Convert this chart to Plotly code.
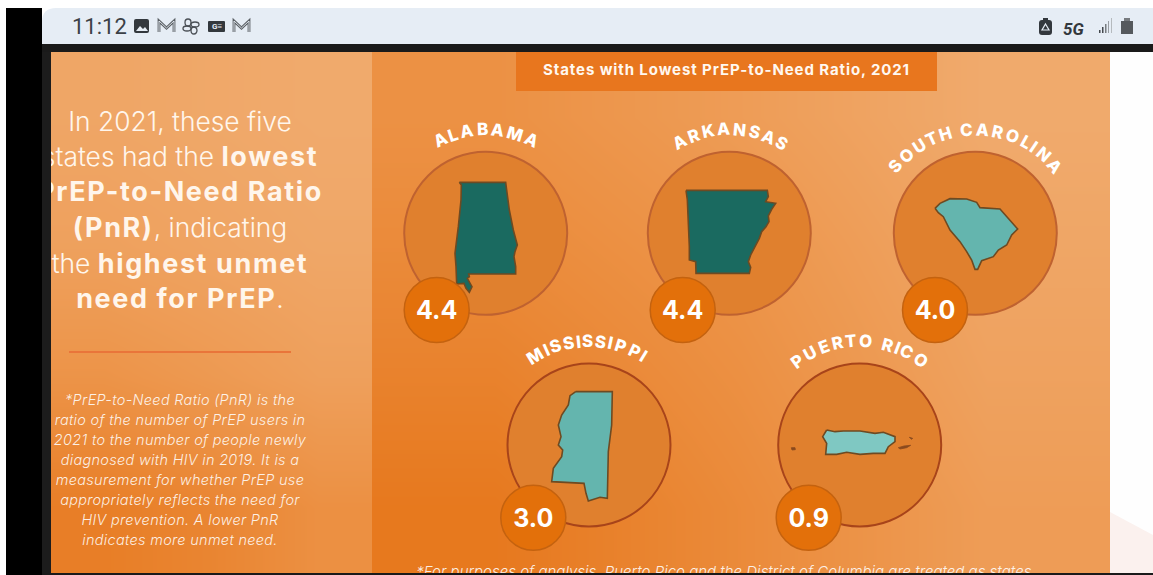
import math
import plotly.graph_objects as go

FONT = "Inter"


def strong(words):
    # Heavier, slightly tracked run inside a light line
    return f'<span style="font-weight:700;letter-spacing:1.6px;font-size:27px">{words}</span>'


def tracked(line, px):
    return f'<span style="letter-spacing:{px}px">{line}</span>'


# Headline, footnotes and banner
BANNER_TITLE = "States with Lowest PrEP-to-Need Ratio, 2021"
HEADLINE = [
    "In 2021, these five",
    "states had the " + strong("lowest"),
    strong("PrEP-to-Need Ratio"),
    strong("(PnR)") + ", indicating",
    "the " + strong("highest unmet"),
    strong("need for PrEP") + ".",
]
HEADLINE_Y = [124, 159, 194, 230, 266, 301]
DEFINITION = [
    "*PrEP-to-Need Ratio (PnR) is the",
    "ratio of the number of PrEP users in",
    "2021 to the number of people newly",
    "diagnosed with HIV in 2019. It is a",
    "measurement for whether PrEP use",
    "appropriately reflects the need for",
    "HIV prevention. A lower PnR",
    "indicates more unmet need.",
]
DEFINITION_Y = [401, 421, 441, 461, 481, 501, 521, 541]
ANALYSIS_NOTE = "*For purposes of analysis, Puerto Rico and the District of Columbia are treated as states."

# One entry per state or territory
STATES = ["ALABAMA", "ARKANSAS", "SOUTH CAROLINA", "MISSISSIPPI", "PUERTO RICO"]
RATIOS = [4.4, 4.4, 4.0, 3.0, 0.9]
CIRCLE_X = [485.7, 729.3, 975.3, 589.0, 859.7]
CIRCLE_Y = [233.3, 233.3, 233.3, 445.0, 445.0]
BADGE_X = [436.7, 682.7, 935.0, 533.3, 808.7]
BADGE_Y = [310.0, 310.0, 310.0, 517.7, 517.7]
ARC_START = [-26.0, -28.5, -50.0, -31.0, -36.5]
ARC_END = [26.0, 30.0, 49.5, 31.4, 35.6]
RING_COLORS = ["#BF6230", "#BF6230", "#BF6230", "#A8441A", "#A8441A"]
STATE_FILLS = ["#1A6A60", "#1A6A60", "#64B5AE", "#64B5AE", "#7FC8C2"]

# Outlines, in thirds of a pixel from each state's box corner
BOX_CORNERS = [(390, 110), (630, 110), (870, 110), (490, 325), (760, 325)]
OUTLINES = [
    [(208, 217), (347, 217), (350, 240), (358, 300), (370, 360), (382, 405), (375, 425), (372, 440),
     (377, 470), (377, 492), (236, 492), (238, 500), (232, 505), (246, 530), (238, 547), (228, 535),
     (222, 520), (200, 522), (198, 470), (195, 430), (205, 350), (213, 270), (214, 225)],
    [(168, 241), (412, 241), (415, 260), (407, 275), (437, 280), (425, 298), (415, 318), (417, 335),
     (408, 350), (395, 365), (388, 385), (375, 410), (362, 435), (355, 455), (362, 472), (358, 490),
     (198, 490), (197, 455), (178, 450), (178, 410), (175, 300), (172, 270)],
    [(195, 295), (210, 280), (240, 266), (290, 267), (320, 277), (330, 293), (390, 297), (443, 357),
     (425, 375), (410, 405), (385, 420), (370, 440), (335, 452), (323, 478), (315, 478), (305, 450),
     (290, 425), (270, 395), (240, 360), (220, 320), (205, 308)],
    [(257, 200), (367, 200), (365, 300), (355, 380), (352, 520), (330, 517), (295, 528), (288, 505),
     (282, 475), (185, 470), (190, 430), (215, 395), (218, 375), (205, 360), (213, 335), (205, 300),
     (215, 270), (235, 240), (240, 212)],
    [(200, 315), (225, 320), (250, 318), (300, 318), (345, 325), (370, 322), (405, 335), (405, 350),
     (385, 365), (375, 385), (340, 385), (300, 388), (260, 382), (230, 388), (197, 388), (200, 355),
     (188, 335)],
]
# Mona, Vieques and Culebra, same units, from the Puerto Rico corner
ISLETS = [
    [(94, 368), (105, 368), (106, 374), (96, 375)],
    [(415, 368), (432, 363), (452, 361), (440, 368), (420, 372)],
    [(448, 337), (458, 340), (455, 343)],
]

# Panel shading levels; rows run top to bottom, columns left to right
LEFT_PANEL_X = [51, 158, 265, 372]
LEFT_PANEL_Y = [52, 182, 312, 442, 573]
LEFT_PANEL_Z = [
    [0.90, 0.94, 0.98],
    [0.80, 0.86, 0.92],
    [0.55, 0.66, 0.78],
    [0.15, 0.28, 0.48],
]
RIGHT_PANEL_X = [372, 618, 864, 1110]
RIGHT_PANEL_Y = [52, 182, 312, 442, 573]
RIGHT_PANEL_Z = [
    [0.50, 0.72, 0.98],
    [0.38, 0.58, 0.90],
    [0.22, 0.48, 0.82],
    [0.05, 0.38, 0.72],
]
PANEL_SCALE = [[0, "#E6761A"], [0.5, "#EC9144"], [1, "#F0AB6E"]]

# Relative letter advances used to space the curved names
ADVANCE = {"A": .76, "L": .60, "B": .74, "M": .92, "R": .72, "K": .72, "N": .80, "S": .64, "U": .77,
           "T": .62, "H": .80, "C": .72, "O": .83, "I": .32, "P": .70, "E": .66, " ": .30}
LETTER_RADIUS = 104


def rect(x0, y0, x1, y1, color, layer="above"):
    return dict(type="rect", xref="x", yref="y", x0=x0, y0=y0, x1=x1, y1=y1,
                fillcolor=color, line_width=0, layer=layer)


def path(d, fill=None, stroke=None, width=1.5):
    return dict(type="path", xref="x", yref="y", path=d, layer="above",
                fillcolor=fill or "rgba(0,0,0,0)", line=dict(color=stroke or "rgba(0,0,0,0)", width=width))


def ellipse(x0, y0, x1, y1, stroke, width=1.3):
    return dict(type="circle", xref="x", yref="y", x0=x0, y0=y0, x1=x1, y1=y1, layer="above",
                fillcolor="rgba(0,0,0,0)", line=dict(color=stroke, width=width))


def outline_trace(corner, outline, fill, edge, width):
    closed = outline + outline[:1]
    return go.Scatter(x=[corner[0] + p[0] / 3 for p in closed],
                      y=[corner[1] + p[1] / 3 for p in closed],
                      mode="lines", fill="toself", fillcolor=fill,
                      line=dict(color=edge, width=width), hoverinfo="skip")


fig = go.Figure()

# Panels with their diagonal shading
for xs, ys, zs in [(LEFT_PANEL_X, LEFT_PANEL_Y, LEFT_PANEL_Z), (RIGHT_PANEL_X, RIGHT_PANEL_Y, RIGHT_PANEL_Z)]:
    fig.add_trace(go.Heatmap(x=xs, y=ys, z=zs, zmin=0, zmax=1, colorscale=PANEL_SCALE, zsmooth="best",
                             showscale=False, hoverinfo="skip"))

# Rings behind each outline
fig.add_trace(go.Scatter(x=CIRCLE_X, y=CIRCLE_Y, mode="markers", hoverinfo="skip",
                         marker=dict(size=163, color="#E0802E", line=dict(color=RING_COLORS, width=2))))

# State outlines
for corner, outline, fill in zip(BOX_CORNERS, OUTLINES, STATE_FILLS):
    fig.add_trace(outline_trace(corner, outline, fill, "#6E4A22", 1.6))
for islet in ISLETS:
    fig.add_trace(outline_trace(BOX_CORNERS[4], islet, "#8A4A1E", "#8A4A1E", 0.8))

# Ratio badges, with the numerals nudged onto the disc centres
fig.add_trace(go.Scatter(x=BADGE_X, y=BADGE_Y, mode="markers", hoverinfo="skip",
                         marker=dict(size=65, color="#E3700A", line=dict(color="#C4620F", width=1.5))))
fig.add_trace(go.Scatter(x=BADGE_X, y=[y + 3 for y in BADGE_Y], mode="text", hoverinfo="skip",
                         text=[f"{v:.1f}" for v in RATIOS], textposition="middle center",
                         textfont=dict(family=FONT, size=25, color="white", weight=700)))

# Left column copy; text runs under the frame, which is drawn on top
fig.add_trace(go.Scatter(x=[180] * len(HEADLINE), y=HEADLINE_Y, text=HEADLINE, mode="text", hoverinfo="skip",
                         textposition="middle center",
                         textfont=dict(family=FONT, size=26.4, color="#FFF6EC", weight=300)))
fig.add_trace(go.Scatter(x=[180] * len(DEFINITION), y=DEFINITION_Y,
                         text=[tracked(line, 0.3) for line in DEFINITION], mode="text", hoverinfo="skip",
                         textposition="middle center",
                         textfont=dict(family=FONT, size=14.5, color="rgba(255,255,255,0.88)", style="italic", weight=300)))
fig.add_trace(go.Scatter(x=[726], y=[573], text=[ANALYSIS_NOTE], mode="text", hoverinfo="skip",
                         textposition="middle center",
                         textfont=dict(family=FONT, size=15, color="rgba(255,255,255,0.88)", style="italic", weight=300)))

shapes = [
    # Frame: black margin, status strip and right-hand page
    rect(6, 8, 42, 575, "#000000"),
    rect(42, 44, 1153, 52, "#1A1A1A"),
    rect(42, 52, 51, 575, "#1C1C1C"),
    rect(42, 573, 1153, 575, "#1A1A1A"),
    rect(1110, 52, 1153, 573, "#FEFEFE"),
    path("M 1110 512 L 1153 535 L 1153 573 L 1110 573 Z", fill="#FBF1EE"),
    path("M 42 44 L 42 22 Q 42 8 56 8 L 1153 8 L 1153 44 Z", fill="#E6EDF5"),
    # Banner and divider
    rect(516, 52, 937, 91, "#E8761E"),
    dict(type="line", xref="x", yref="y", x0=69, x1=291, y0=352, y1=352, layer="above",
         line=dict(color="#E9753A", width=2)),
    # Status bar: picture icon
    path("M 136 19 L 147 19 Q 149 19 149 21 L 149 31 Q 149 33 147 33 L 136 33 Q 134 33 134 31 L 134 21 Q 134 19 136 19 Z",
         fill="#33383D"),
    path("M 136 31 L 140 26 L 143 29 L 145 27 L 148 31 Z", fill="#E6EDF5"),
    # Status bar: hollow mail icons
    path("M 159 32 L 159 21 L 166.5 28 L 174 21 L 174 32", stroke="#5A5F64", width=2.8),
    path("M 159 32 L 159 21 L 166.5 28 L 174 21 L 174 32", stroke="#E6EDF5", width=0.9),
    path("M 234 32 L 234 21 L 241.5 28 L 249 21 L 249 32", stroke="#5A5F64", width=2.8),
    path("M 234 32 L 234 21 L 241.5 28 L 249 21 L 249 32", stroke="#E6EDF5", width=0.9),
    # Status bar: pinwheel
    ellipse(185, 19, 191, 26, "#4A4F55"),
    ellipse(191, 22, 199, 27, "#4A4F55"),
    ellipse(191, 27, 197, 34, "#4A4F55"),
    ellipse(183, 26, 191, 31, "#4A4F55"),
    # Status bar: news badge
    path("M 209 21 L 224 21 Q 225 21 225 22 L 225 31 Q 225 32 224 32 L 209 32 Q 208 32 208 31 L 208 22 Q 208 21 209 21 Z",
         fill="#33383D"),
    # Status bar: battery saver, signal, battery
    path("M 1042 20 L 1049 20 Q 1052 20 1052 23 L 1052 32 Q 1052 35 1049 35 L 1042 35 Q 1039 35 1039 32 L 1039 23 Q 1039 20 1042 20 Z",
         fill="#33383D"),
    rect(1043, 18, 1048, 20, "#33383D"),
    path("M 1045.5 24 L 1049 30 L 1042 30 Z", stroke="#E6EDF5", width=1.2),
    rect(1099, 30, 1100.5, 33, "#44494E"),
    rect(1102, 27, 1103.5, 33, "#44494E"),
    rect(1105, 24, 1106.5, 33, "#777C80"),
    rect(1108, 21, 1109, 33, "#999EA3"),
    rect(1111, 18, 1112, 33, "#B5BABE"),
    rect(1121, 21, 1133, 34, "#55595D"),
    rect(1124, 18, 1130, 21, "#777B7F"),
]

annotations = [
    dict(x=726.5, y=69.5, text=tracked(BANNER_TITLE, 0.9),
         font=dict(family=FONT, size=15, color="#FFF8F0", weight=700)),
    dict(x=99.5, y=26, text="11:12", font=dict(family="Roboto", size=22, color="#3B4046")),
    dict(x=216.5, y=26.5, text="<b>G≡</b>", font=dict(family="Roboto", size=8, color="#E6EDF5")),
    dict(x=1073, y=28.5, text="<b><i>5G</i></b>", font=dict(family="Roboto", size=17, color="#33383D")),
]

# Curved names, one rotated letter at a time along each ring
for name, cx, cy, a0, a1 in zip(STATES, CIRCLE_X, CIRCLE_Y, ARC_START, ARC_END):
    centres = []
    pos = 0.0
    for ch in name:
        centres.append(pos + ADVANCE[ch] / 2)
        pos += ADVANCE[ch]
    first, last = centres[0], centres[-1]
    for ch, c in zip(name, centres):
        if ch == " ":
            continue
        ang = a0 + (c - first) / (last - first) * (a1 - a0)
        rad = math.radians(ang)
        annotations.append(dict(x=cx + LETTER_RADIUS * math.sin(rad), y=cy - LETTER_RADIUS * math.cos(rad),
                                text=ch, textangle=ang,
                                font=dict(family=FONT, size=17, color="white", weight=800)))

for a in annotations:
    a.update(xref="x", yref="y", showarrow=False, xanchor="center", yanchor="middle")

fig.update_layout(
    width=1153, height=575, autosize=False, margin=dict(l=0, r=0, t=0, b=0),
    paper_bgcolor="white", plot_bgcolor="white", showlegend=False,
    xaxis=dict(range=[0, 1153], visible=False, fixedrange=True),
    yaxis=dict(range=[575, 0], visible=False, fixedrange=True),
    shapes=shapes, annotations=annotations,
)

fig.write_html("out.html", config={"displayModeBar": False})
